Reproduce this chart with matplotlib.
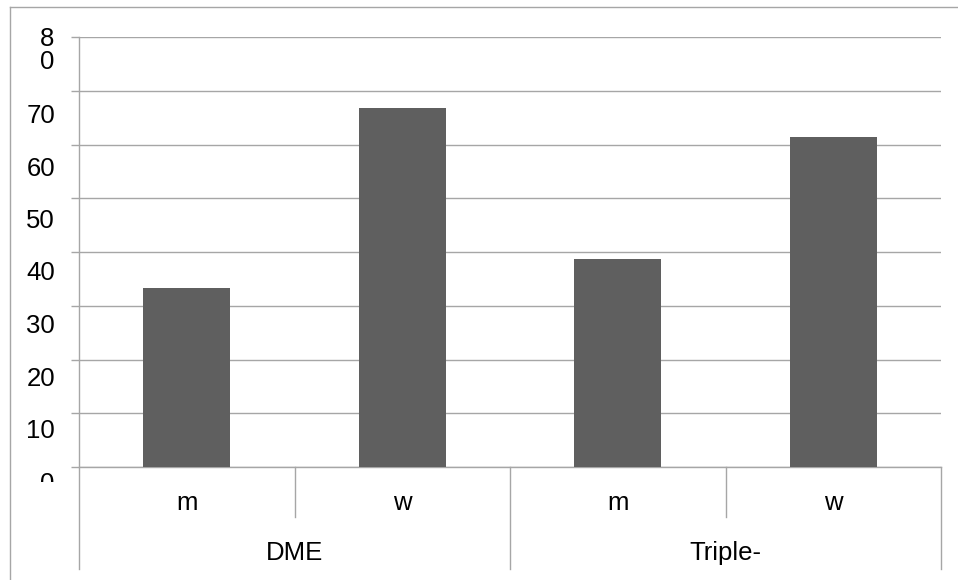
import matplotlib
matplotlib.use("Agg")
import matplotlib.pyplot as plt
from matplotlib.lines import Line2D
from matplotlib.transforms import Bbox, TransformedBbox, blended_transform_factory

plt.rcParams['font.family'] = ['Liberation Sans', 'DejaVu Sans']

# ---- data ----
sub_labels = ["m", "w", "m", "w"]
group_labels = ["DME", "Triple-"]
group_sizes = [2, 2]
values = [33.3, 66.8, 38.7, 61.4]
y_ticks = [0, 10, 20, 30, 40, 50, 60, 70, 80]

W, H = 958, 580
BAR = "#5f5f5f"
GRID = "#a6a6a6"
FS = 18.5

fig = plt.figure(figsize=(W / 100, H / 100), dpi=100)

def fx(x):
    return x / W

def fy(y):
    return 1 - y / H

ax_left, ax_right, ax_top, ax_bot = 79, 941, 37, 467
ax = fig.add_axes([fx(ax_left), fy(ax_bot), fx(ax_right - ax_left), (ax_bot - ax_top) / H])

xs = list(range(len(values)))
ax.bar(xs, values, width=0.404, color=BAR, zorder=3)
ax.set_xlim(-0.5, len(values) - 0.5)
ax.set_ylim(0, 80)
ax.set_yticks(y_ticks)
ax.set_yticklabels([])
ax.set_xticks([])
ax.yaxis.grid(True, color=GRID, linewidth=1.0)
ax.set_axisbelow(True)
ax.tick_params(axis='y', length=5.8, width=1.0, color=GRID, direction='out')
for s in ['top', 'right']:
    ax.spines[s].set_visible(False)
ax.spines['left'].set_visible(False)
ax.spines['bottom'].set_color(GRID)
ax.spines['bottom'].set_linewidth(1.0)

# left axis line extending into the category area
fig.add_artist(Line2D([fx(ax_left)] * 2, [fy(ax_top), fy(569)], color=GRID, lw=1.0))

# category boundary lines
tr = blended_transform_factory(ax.transData, fig.transFigure)
n = len(values)
group_bounds = [-0.5]
acc = -0.5
for g in group_sizes:
    acc += g
    group_bounds.append(acc)
for i in range(n + 1):
    xb = i - 0.5
    if xb == -0.5:
        continue
    bottom = 569 if xb in group_bounds else 517
    fig.add_artist(Line2D([xb, xb], [fy(ax_bot), fy(bottom)], color=GRID, lw=1.0, transform=tr))

# category labels
for i, lab in enumerate(sub_labels):
    fig.text(i, fy(503), lab, transform=tr, ha='center', va='center', fontsize=FS)
start = 0
for g, lab in zip(group_sizes, group_labels):
    c = start + (g - 1) / 2
    fig.text(c, fy(553), lab, transform=tr, ha='center', va='center', fontsize=FS)
    start += g

# y tick labels (Excel-like placement)
for v in y_ticks:
    if v in (0, 80):
        continue
    yc = 116 + (70 - v) / 10 * 52.5
    fig.text(fx(55), fy(yc), str(v), ha='right', va='center', fontsize=FS)
lab80 = str(y_ticks[-1])
fig.text(fx(54), fy(39.5), lab80[0], ha='right', va='center', fontsize=FS)
fig.text(fx(54), fy(62), lab80[1], ha='right', va='center', fontsize=FS)
t0 = fig.text(fx(54), fy(484), str(y_ticks[0]), ha='right', va='center', fontsize=FS)
t0.set_clip_box(TransformedBbox(Bbox([[0, fy(482)], [fx(70), fy(467)]]), fig.transFigure))
t0.set_clip_on(True)

# outer chart border (partially outside the image)
fig.add_artist(Line2D([fx(10), fx(10)], [fy(7), 0], color=GRID, lw=1.0))
fig.add_artist(Line2D([fx(10), 1], [fy(7), fy(7)], color=GRID, lw=1.0))

fig.savefig("out.png", dpi=100)
